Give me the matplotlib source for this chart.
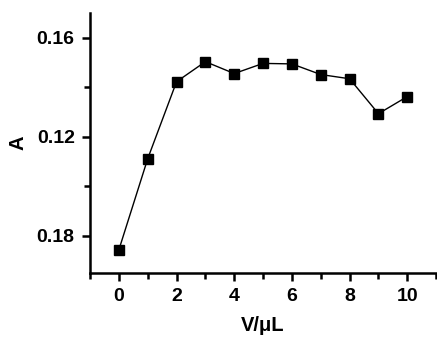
import matplotlib
matplotlib.use("Agg")
import matplotlib.pyplot as plt
from matplotlib.ticker import MultipleLocator

# Data
volume = [0, 1, 2, 3, 4, 5, 6, 7, 8, 9, 10]
absorbance = [0.0743, 0.1111, 0.1422, 0.1503, 0.1455, 0.1496, 0.1494,
              0.1451, 0.1434, 0.1293, 0.1362]
y_ticks = [0.08, 0.12, 0.16]
y_tick_labels = ["0.18", "0.12", "0.16"]  # as printed in the original
x_ticks = [0, 2, 4, 6, 8, 10]

plt.rcParams["font.family"] = ["Liberation Sans", "DejaVu Sans"]
plt.rcParams["font.weight"] = "bold"

fig = plt.figure(figsize=(4.37, 3.39), dpi=100)
ax = fig.add_axes([0.206, 0.195, 0.792, 0.767])

ax.plot(volume, absorbance, color="black", linewidth=1.0,
        marker="s", markersize=7.5, markerfacecolor="black",
        markeredgecolor="black")

ax.set_xlim(-1, 11)
ax.set_ylim(0.065, 0.170)
ax.set_xticks(x_ticks)
ax.xaxis.set_minor_locator(MultipleLocator(1))
ax.set_yticks(y_ticks)
ax.set_yticklabels(y_tick_labels)
ax.yaxis.set_minor_locator(MultipleLocator(0.02))

for side in ("top", "right"):
    ax.spines[side].set_visible(False)
for side in ("left", "bottom"):
    ax.spines[side].set_linewidth(1.8)

ax.tick_params(which="major", direction="out", length=6, width=1.8,
               labelsize=14, pad=5)
ax.tick_params(which="minor", direction="out", length=4, width=1.8)
for lab in ax.get_xticklabels() + ax.get_yticklabels():
    lab.set_fontweight("bold")

ax.set_xlabel("V/μL", fontsize=14.5, fontweight="bold", labelpad=8)
ax.set_ylabel("A", fontsize=14.5, fontweight="bold", labelpad=7)

fig.savefig("out.png", dpi=100)
plt.close(fig)
